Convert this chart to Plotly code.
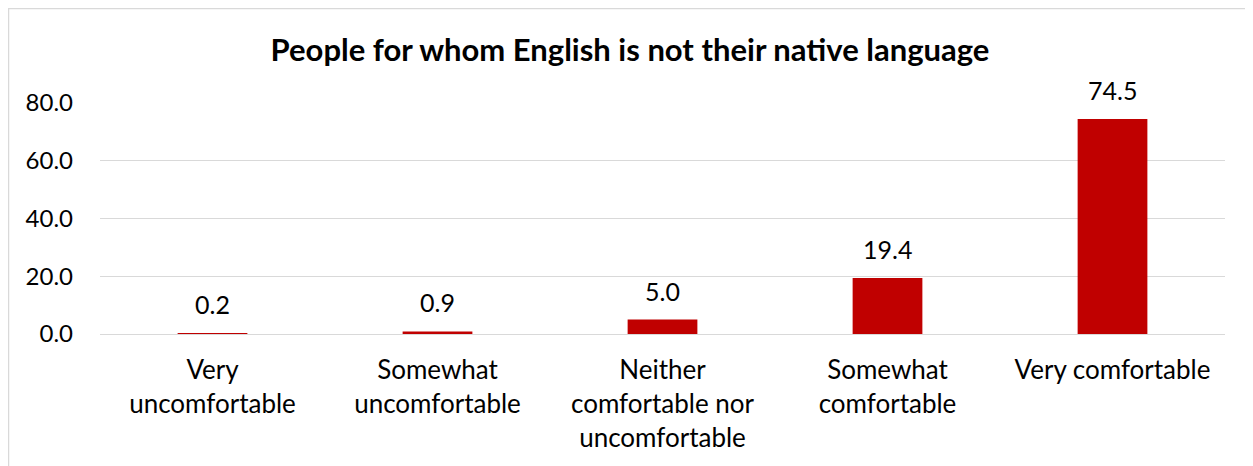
import plotly.graph_objects as go

categories = ["Very<br>uncomfortable", "Somewhat<br>uncomfortable",
              "Neither<br>comfortable nor<br>uncomfortable",
              "Somewhat<br>comfortable", "Very comfortable"]
values = [0.2, 0.9, 5.0, 19.4, 74.5]
y_ticks = [0, 20, 40, 60, 80]
title = "People for whom English is not their native language"

FONT = "Lato"
fig = go.Figure()
fig.add_trace(go.Bar(x=categories, y=values, marker_color="#C00000",
                     marker_line_width=0))
for c, v in zip(categories, values):
    fig.add_annotation(x=c, y=v, text=f"{v:.1f}", showarrow=False,
                       yanchor="bottom", yshift=12,
                       font=dict(family=FONT, size=25, color="#000000"))

# page body adds an 8px offset; figure coords = screen coords - 8
W, H = 1245, 458
L, R, T, B = 92, 28, 95, 132
pw, ph = W - L - R, H - T - B
def px(x):
    return (x - L) / pw
def py(y):
    return (H - B - y) / ph

fig.add_shape(type="rect", xref="paper", yref="paper",
              x0=px(0.5), x1=px(1240), y0=py(0.5), y1=py(480),
              line=dict(color="#d9d9d9", width=1.5), layer="below")

fig.update_layout(
    width=W, height=H,
    margin=dict(l=L, r=R, t=T, b=B),
    paper_bgcolor="white", plot_bgcolor="white",
    bargap=0.69,
    showlegend=False,
    title=dict(text="<b>" + title + "</b>", x=px(622), xref="paper", xanchor="center",
               y=1 - 42 / H, yref="container", yanchor="middle",
               font=dict(family=FONT, size=31, color="#000000")),
    font=dict(family=FONT, size=24, color="#000000"),
)
fig.update_yaxes(range=[0, 80], tickvals=y_ticks, tickformat=".1f",
                 showgrid=True, gridcolor="#d9d9d9", gridwidth=1,
                 zeroline=True, zerolinecolor="#d9d9d9", zerolinewidth=1,
                 showline=False, ticks="", ticklabelstandoff=26,
                 tickfont=dict(family=FONT, size=24, color="#000000"))
fig.update_xaxes(showline=False, ticks="", ticklabelstandoff=18,
                 tickfont=dict(family=FONT, size=26, color="#000000"))

fig.write_html("out.html")
